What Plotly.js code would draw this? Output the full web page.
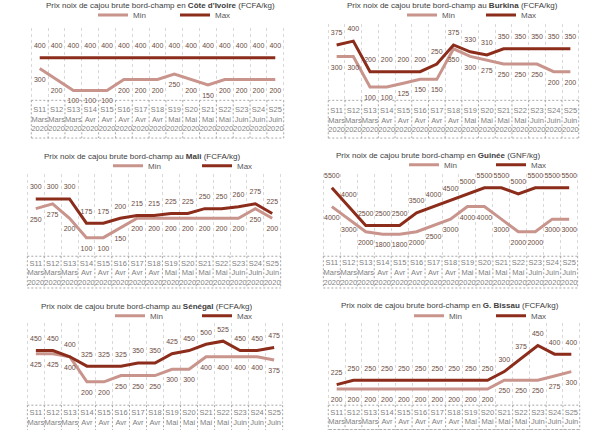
<!DOCTYPE html>
<html><head><meta charset="utf-8">
<script src="https://cdn.plot.ly/plotly-3.0.1.min.js"></script>
<style>html,body{margin:0;padding:0;background:#fff}#chart{width:608px;height:430px}</style>
</head><body><div id="chart"></div>
<script>
const weeks = ['S11','S12','S13','S14','S15','S16','S17','S18','S19','S20','S21','S22','S23','S24','S25'];
const months = ['Mars','Mars','Mars','Avr','Avr','Avr','Avr','Avr','Mai','Mai','Mai','Mai','Juin','Juin','Juin'];
const years = ['2020','2020','2020','2020','2020','2020','2020','2020','2020','2020','2020','2020','2020','2020','2020'];

const countries = ['Côte d\'Ivoire','Burkina','Mali','Guinée','Sénégal','G. Bissau'];
const preps = ['en','au','au','en','au','en'];
const units = ['FCFA/kg','FCFA/kg','FCFA/kg','GNF/kg','FCFA/kg','FCFA/kg'];

const civMin = [300,200,100,100,100,200,200,200,250,200,150,200,200,200,200];
const civMax = [400,400,400,400,400,400,400,400,400,400,400,400,400,400,400];
const bfMin  = [300,300,100,100,125,150,150,350,300,275,250,250,250,200,200];
const bfMax  = [375,400,200,200,200,200,250,375,330,310,350,350,350,350,350];
const mlMin  = [250,275,200,100,100,150,200,200,200,200,200,200,200,250,200];
const mlMax  = [300,300,300,175,175,200,215,215,225,225,250,250,260,275,225];
const gnMin  = [4000,3000,2000,1800,1800,2000,2500,3000,4000,4000,3000,2000,2000,3000,3000];
const gnMax  = [5500,4000,2500,2500,2500,3500,4000,4500,5000,5500,5500,5000,5500,5500,5500];
const snMin  = [425,425,400,200,200,250,250,250,300,300,400,400,400,400,375];
const snMax  = [450,450,400,325,325,325,350,350,425,450,500,525,450,450,475];
const gbMin  = [200,200,200,200,200,200,200,200,200,200,250,250,250,275,300];
const gbMax  = [225,250,250,250,250,250,250,250,250,250,300,375,450,400,400];

const minSeries = [civMin,bfMin,mlMin,gnMin,snMin,gbMin];
const maxSeries = [civMax,bfMax,mlMax,gnMax,snMax,gbMax];

// layout geometry (pixels)
const W = 608, H = 430;
const panels = [
  {x0:19, x1:296, yt:25, yb:99, rng:[0,673], tTop:98, tBot:136, titleX:160, titleY:3, legL:93, legY:12, legW:72, stand:2},
  {x0:316,x1:591, yt:21, yb:100, rng:[0,513], tTop:98, tBot:136, titleX:452, titleY:3, legL:402, legY:12, legW:69, stand:2},
  {x0:15, x1:293, yt:172,yb:255.8,rng:[0,430], tTop:255, tBot:287, titleX:142, titleY:155, legL:108, legY:164, legW:79, stand:0},
  {x0:311,x1:590, yt:172,yb:255.7,rng:[0,6606],tTop:255, tBot:287, titleX:438, titleY:154, legL:404, legY:163, legW:77, stand:0},
  {x0:15, x1:295, yt:322,yb:406.7,rng:[0,672], tTop:405, tBot:440, titleX:147, titleY:306, legL:110, legY:315, legW:77, stand:0},
  {x0:316,x1:592, yt:322,yb:406, rng:[101,581], tTop:405, tBot:440, titleX:450, titleY:305, legL:409, legY:315, legW:72, stand:0}
];

const cMin = '#c8948c', cMax = '#8c2d1c', cLbl = '#6a4a3e';
const cats = weeks.map((w,i)=> w+'<br>'+months[i]+'<br>'+years[i]);

const data = [];
const layout = {
  width: W, height: H, margin:{l:0,r:0,t:0,b:0},
  paper_bgcolor:'#ffffff', plot_bgcolor:'rgba(0,0,0,0)',
  font:{family:'Liberation Sans, Arial, sans-serif', size:8, color:'#595959'},
  annotations: [], shapes: [], showlegend:true
};

panels.forEach((p,k)=>{
  const n = k+1;
  const xa = n===1?'x':'x'+n, ya = n===1?'y':'y'+n;
  const lg = n===1?'legend':'legend'+n;
  const common = {x:cats, xaxis:xa, yaxis:ya, mode:'lines+markers+text', cliponaxis:false,
                  marker:{size:11, color:'rgba(0,0,0,0)'},
                  textfont:{size:7, color:cLbl, family:'Liberation Sans, Arial, sans-serif'}, hoverinfo:'skip', legend:lg};
  data.push(Object.assign({}, common, {name:'Min', y:minSeries[k], text:minSeries[k].map(String),
             textposition:'bottom center', line:{color:cMin, width:3}}));
  data.push(Object.assign({}, common, {name:'Max', y:maxSeries[k], text:maxSeries[k].map(String),
             textposition:'top center', line:{color:cMax, width:3}}));

  layout['xaxis'+(n===1?'':n)] = {
    domain:[p.x0/W, p.x1/W], anchor: ya, type:'category', tickson:'boundaries',
    showgrid:true, gridcolor:'#d9d9d9', griddash:'dot', gridwidth:1,
    showline:false, zeroline:false, ticks:'', fixedrange:true,
    tickfont:{size:7.5, color:'#7f7f7f'}, ticklabelstandoff:p.stand, tickangle:0
  };
  layout['yaxis'+(n===1?'':n)] = {
    domain:[1-p.yb/H, 1-p.yt/H], anchor: xa, range:p.rng, showgrid:false,
    showticklabels:false, zeroline:false, showline:false, ticks:'', fixedrange:true
  };
  layout[lg] = {orientation:'h', xref:'paper', yref:'paper', x:p.legL/W, y:1-p.legY/H, xanchor:'left', yanchor:'middle',
    font:{size:8, color:'#595959'}, bgcolor:'rgba(0,0,0,0)', entrywidth:p.legW-35, entrywidthmode:'pixels',
    itemwidth:30, tracegroupgap:0, borderwidth:0};

  layout.annotations.push({xref:'paper', yref:'paper', x:p.titleX/W, y:1-p.titleY/H, xanchor:'center', yanchor:'middle',
    showarrow:false, text:'Prix noix de cajou brute bord-champ '+preps[k]+' <b>'+countries[k]+'</b> ('+units[k]+')',
    font:{size:8, color:'#404040'}});

  // table borders
  const ln = {color:'#a6a6a6', width:1, dash:'2px,2px'};
  [p.tTop, p.tBot].forEach(yy=>{
    layout.shapes.push({type:'line', xref:xa, yref:'paper', x0:-0.5, x1:weeks.length-0.5, y0:1-yy/H, y1:1-yy/H, line:ln});
  });
  for(let i=0;i<=weeks.length;i++){
    layout.shapes.push({type:'line', xref:xa, yref:'paper', x0:i-0.5, x1:i-0.5, y0:1-p.tTop/H, y1:1-p.tBot/H, line:ln});
  }
});

Plotly.newPlot('chart', data, layout, {staticPlot:true});
</script></body></html>
